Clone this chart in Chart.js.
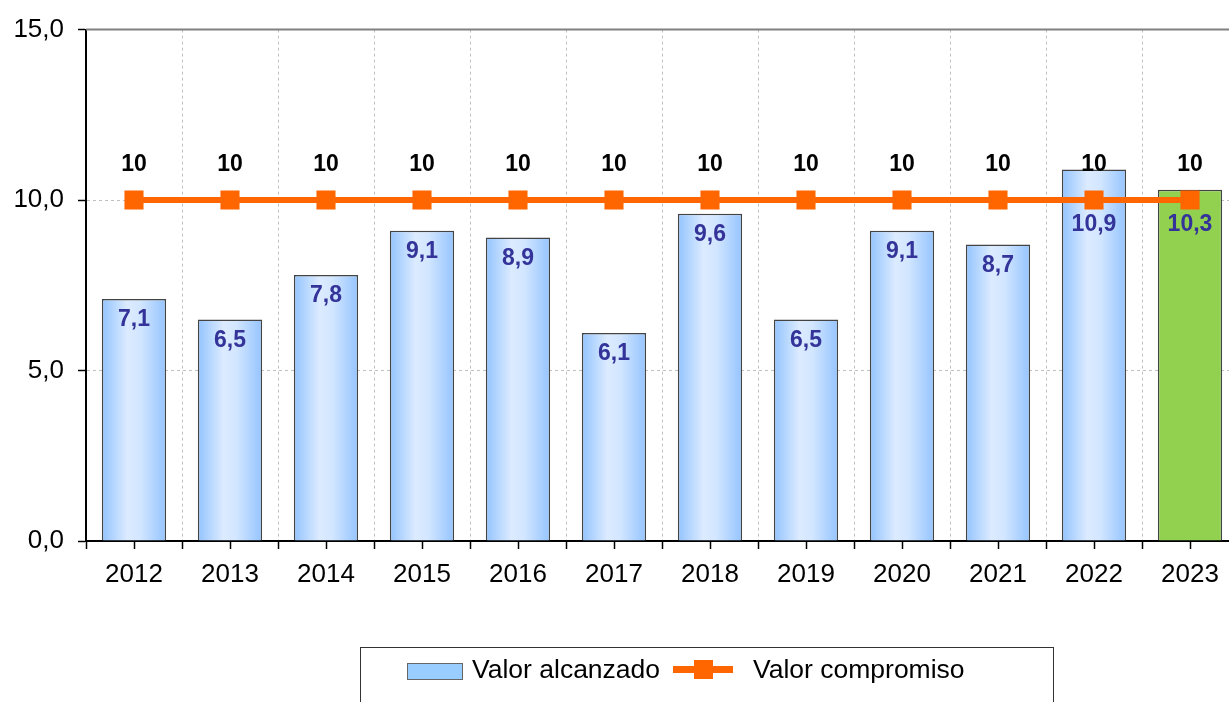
<!DOCTYPE html>
<html>
<head>
<meta charset="utf-8">
<script src="https://cdn.jsdelivr.net/npm/chart.js@4"></script>
<style>
	html, body { margin: 0; padding: 0; background: #fff; overflow: hidden; }
	#wrap { position: relative; width: 1250px; height: 702px; overflow: hidden; }
	#chart { position: absolute; left: 0; top: 0; width: 1242px; height: 702px; }
	.lg { position: absolute; font-family: 'Liberation Sans', Arial, sans-serif; font-size: 26.5px; line-height: normal; color: #000; white-space: nowrap; }
</style>
</head>
<body>
<div id="wrap">
	<canvas id="chart" width="1242" height="702"></canvas>
	<!-- legend box -->
	<div style="position:absolute;left:360px;top:647px;width:692px;height:80px;border:1px solid #333;"></div>
	<div style="position:absolute;left:407px;top:663px;width:54px;height:15px;background:#99CCFF;border:1px solid #666;"></div>
	<span class="lg" style="left:472px;top:654px;">Valor alcanzado</span>
	<div style="position:absolute;left:673px;top:666px;width:60px;height:7px;background:#FF6600;"></div>
	<div style="position:absolute;left:694px;top:660px;width:19px;height:19px;background:#FF6600;"></div>
	<span class="lg" style="left:753px;top:654px;">Valor compromiso</span>
</div>
<script>
document.addEventListener('DOMContentLoaded', () => {
	/************  DATA  ************/
	const years = ['2012', '2013', '2014', '2015', '2016', '2017', '2018', '2019', '2020', '2021', '2022', '2023'];
	const achieved = [7.1, 6.5, 7.8, 9.1, 8.9, 6.1, 9.6, 6.5, 9.1, 8.7, 10.9, 10.3];
	const commitment = [10, 10, 10, 10, 10, 10, 10, 10, 10, 10, 10, 10];
	const yTicks = [0, 5, 10, 15];

	const barPct = 0.67;
	const fontFamily = "'Liberation Sans', Arial, sans-serif";

	// comma decimal, like the original
	const fmt = (v, d) => v.toFixed(d).replace('.', ',');

	// horizontal gradient for each blue bar, last year is green
	function barFill(context) {
		const chart = context.chart;
		const area = chart.chartArea;
		if (context.dataIndex === years.length - 1) return '#92D050';
		if (!area || !chart.scales.x) return '#99CCFF';
		const x = chart.scales.x.getPixelForValue(context.dataIndex);
		const half = (area.right - area.left) / years.length * barPct / 2;
		const g = chart.ctx.createLinearGradient(x - half, 0, x + half, 0);
		g.addColorStop(0, '#94C4FF');
		g.addColorStop(0.4, '#DCEBFF');
		g.addColorStop(0.6, '#D2E6FF');
		g.addColorStop(1, '#94C4FF');
		return g;
	}

	/************  PLUGINS  ************/

	// top frame line and small ticks under each category
	const framePlugin = {
		id: 'frame',
		beforeDatasetsDraw(chart) {
			const { ctx, chartArea } = chart;
			ctx.save();
			ctx.strokeStyle = '#808080';
			ctx.lineWidth = 2;
			ctx.beginPath();
			ctx.moveTo(chartArea.left, chartArea.top);
			ctx.lineTo(chartArea.right, chartArea.top);
			ctx.stroke();
			ctx.restore();
		},
		afterDraw(chart) {
			const { ctx, chartArea } = chart;
			const xScale = chart.scales.x;
			ctx.save();
			ctx.strokeStyle = '#000';
			ctx.lineWidth = 1.5;
			years.forEach((y, i) => {
				const x = Math.round(xScale.getPixelForValue(i)) + 0.5;
				ctx.beginPath();
				ctx.moveTo(x, chartArea.bottom);
				ctx.lineTo(x, chartArea.bottom + 8);
				ctx.stroke();
			});
			ctx.restore();
		},
	};

	// value labels on bars and on the line points
	const labelPlugin = {
		id: 'labels',
		afterDatasetsDraw(chart) {
			const { ctx } = chart;
			const yScale = chart.scales.y;
			const lineMeta = chart.getDatasetMeta(0);
			const barMeta = chart.getDatasetMeta(1);
			ctx.save();
			ctx.textAlign = 'center';
			ctx.textBaseline = 'middle';

			ctx.font = 'bold 23px ' + fontFamily;
			ctx.fillStyle = '#333399';
			barMeta.data.forEach((el, i) => {
				const y = Math.max(el.y + 21, yScale.getPixelForValue(commitment[i]) + 25);
				ctx.fillText(fmt(achieved[i], 1), el.x, y);
			});

			ctx.fillStyle = '#000';
			lineMeta.data.forEach((pt, i) => {
				ctx.fillText(String(commitment[i]), pt.x, pt.y - 35);
			});
			ctx.restore();
		},
	};

	/************  CHART  ************/
	const ctx = document.getElementById('chart').getContext('2d');
	new Chart(ctx, {
		data: {
			labels: years,
			datasets: [
				{
					type: 'line',
					label: 'Valor compromiso',
					data: commitment,
					order: 0,
					borderColor: '#FF6600',
					backgroundColor: '#FF6600',
					borderWidth: 6,
					pointStyle: 'rect',
					pointRadius: 13.5,
					pointBackgroundColor: '#FF6600',
					pointBorderWidth: 0,
					tension: 0,
				},
				{
					type: 'bar',
					label: 'Valor alcanzado',
					data: achieved,
					order: 1,
					backgroundColor: barFill,
					borderColor: '#444',
					borderWidth: 1.5,
					barPercentage: barPct,
					categoryPercentage: 1,
				},
			],
		},
		options: {
			responsive: false,
			animation: false,
			devicePixelRatio: 1,
			layout: {
				autoPadding: false,
				padding: { top: 29, right: 4, bottom: 0, left: 0 },
			},
			plugins: {
				legend: { display: false },
				tooltip: { enabled: false },
			},
			scales: {
				x: {
					offset: true,
					grid: {
						offset: true,
						color: '#c0c0c0',
						lineWidth: 1,
						tickColor: '#000',
						tickLength: 8,
						tickWidth: 1.5,
					},
					border: { display: true, color: '#000', width: 2, dash: [3, 3] },
					ticks: {
						color: '#000',
						font: { family: fontFamily, size: 26 },
						padding: 10,
						maxRotation: 0,
					},
					afterFit(scale) {
						scale.height = 161;
						scale.paddingLeft = 0;
						scale.paddingRight = 0;
					},
				},
				y: {
					min: 0,
					max: 15,
					afterBuildTicks(scale) { scale.ticks = yTicks.map(v => ({ value: v })); },
					grid: {
						color: '#c0c0c0',
						lineWidth: 1,
						tickColor: '#000',
						tickLength: 8,
						tickWidth: 1.5,
					},
					border: { display: true, color: '#000', width: 2, dash: [3, 3] },
					ticks: {
						color: '#000',
						font: { family: fontFamily, size: 26 },
						padding: 14,
						callback: v => fmt(v, 1),
					},
					afterFit(scale) { scale.width = 86; },
				},
			},
		},
		plugins: [framePlugin, labelPlugin],
	});
});
</script>
</body>
</html>
